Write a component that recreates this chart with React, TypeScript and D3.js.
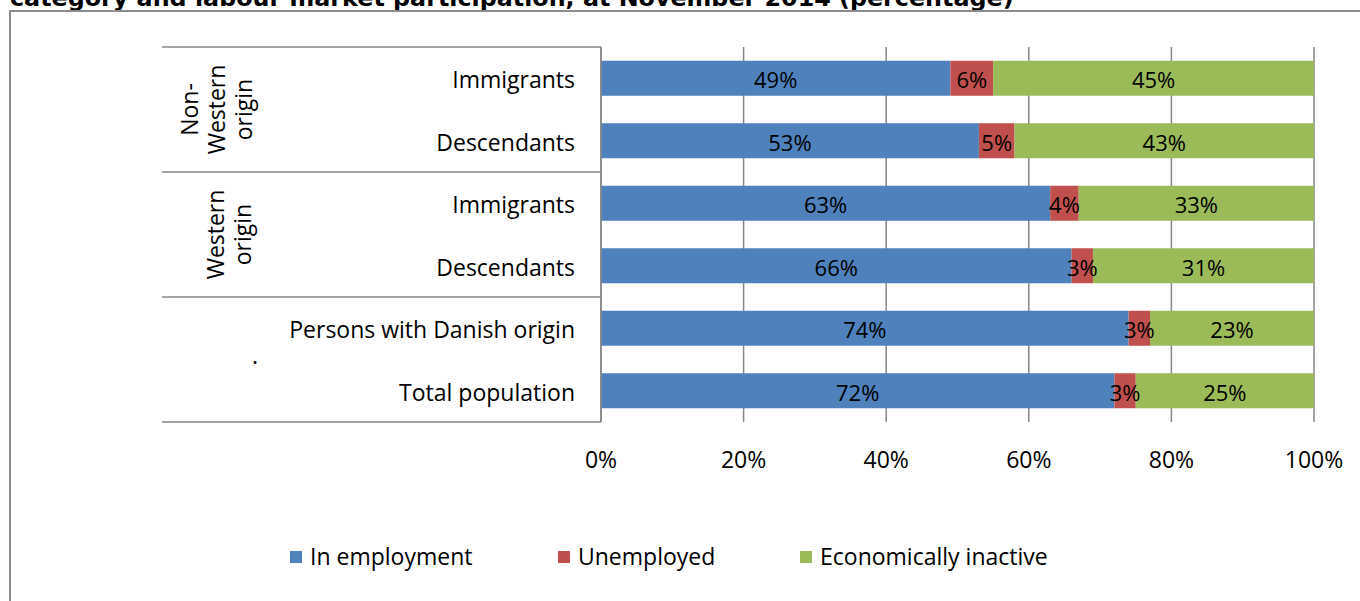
import React, { useEffect, useRef } from "react";
import * as d3 from "d3";

const categories = ["Immigrants", "Descendants", "Immigrants", "Descendants", "Persons with Danish origin", "Total population"];
const groupLabels = [["Non-", "Western", "origin"], ["Western", "origin"], ["."]];
const seriesNames = ["In employment", "Unemployed", "Economically inactive"];
const employment = [49, 53, 63, 66, 74, 72];
const unemployed = [6, 5, 4, 3, 3, 3];
const inactive = [45, 43, 33, 31, 23, 25];
const xTicks = [0, 20, 40, 60, 80, 100];
const colors = ["#4F81BD", "#C0504D", "#9BBB59"];
const titleText = "category and labour market participation, at November 2014 (percentage)";

const W = 1360, H = 601;
const plot = { left: 601, right: 1314, top: 47, bottom: 422 };
const tableLeft = 162;
const FONT = "'Open Sans', sans-serif";

export default function App() {
  const ref = useRef<SVGSVGElement>(null);
  useEffect(() => {
    const svg = d3.select(ref.current);
    svg.selectAll("*").remove();

    const x = d3.scaleLinear().domain([0, 100]).range([plot.left, plot.right]);
    const y = d3.scaleBand<number>().domain(d3.range(categories.length)).range([plot.top, plot.bottom]).paddingInner(0.44).paddingOuter(0.22);

    // title (cut off at top, as in the reference)
    svg.append("text").attr("x", 10).attr("y", 6).attr("font-family", "'DejaVu Sans', Verdana, sans-serif")
      .attr("font-weight", "bold").attr("font-size", 23.8).attr("fill", "#000").text(titleText);

    // chart border
    svg.append("rect").attr("x", 10).attr("y", 11).attr("width", 1400).attr("height", 700)
      .attr("fill", "none").attr("stroke", "#8c8c8c").attr("stroke-width", 2);

    const grid = "#878787";
    svg.append("g").selectAll("line").data(xTicks).join("line")
      .attr("x1", d => x(d)).attr("x2", d => x(d)).attr("y1", plot.top).attr("y2", plot.bottom)
      .attr("stroke", grid).attr("stroke-width", 1.5);

    const rows = categories.map((c, i) => ({ i, v: [employment[i], unemployed[i], inactive[i]] }));
    const stack = d3.stack<any>().keys(["0", "1", "2"]).value((d, k) => d.v[+k]);
    const stacked = stack(rows);
    stacked.forEach((layer, si) => {
      const g = svg.append("g");
      g.selectAll("rect").data(layer).join("rect")
        .attr("x", d => x(d[0])).attr("width", d => x(Math.min(100, d[1])) - x(d[0]))
        .attr("y", d => y((d.data as any).i)!).attr("height", y.bandwidth())
        .attr("fill", colors[si]);
    });
    stacked.forEach((layer, si) => {
      const g = svg.append("g");
      g.selectAll("text").data(layer).join("text")
        .attr("x", d => x((d[0] + Math.min(100, d[1])) / 2)).attr("y", d => y((d.data as any).i)! + y.bandwidth() / 2 + 10)
        .attr("text-anchor", "middle").attr("font-family", FONT).attr("font-size", 22).attr("fill", "#000")
        .text(d => `${(d.data as any).v[si]}%`);
    });

    svg.append("line").attr("x1", plot.left).attr("x2", plot.left).attr("y1", plot.top).attr("y2", plot.bottom)
      .attr("stroke", grid).attr("stroke-width", 1.5);

    const groupBounds = [plot.top, y(2)! - y.step() * y.paddingInner() / 2, y(4)! - y.step() * y.paddingInner() / 2, plot.bottom];
    svg.append("g").selectAll("line").data(groupBounds).join("line")
      .attr("x1", tableLeft).attr("x2", plot.left).attr("y1", d => d).attr("y2", d => d)
      .attr("stroke", grid).attr("stroke-width", 1.5);

    svg.append("g").selectAll("text").data(categories).join("text")
      .attr("x", 575).attr("y", (d, i) => y(i)! + y.bandwidth() / 2 + 10)
      .attr("text-anchor", "end").attr("font-family", FONT).attr("font-size", 23).attr("fill", "#000")
      .text(d => d);

    groupLabels.forEach((lines, gi) => {
      const cy = (groupBounds[gi] + groupBounds[gi + 1]) / 2;
      if (lines.length === 1) {
        svg.append("text").attr("x", 255).attr("y", cy + 4).attr("text-anchor", "middle")
          .attr("font-family", FONT).attr("font-size", 23).text(lines[0]);
        return;
      }
      const cx = gi === 0 ? 217 : 229;
      const lh = 27;
      const t = svg.append("text").attr("transform", `translate(${cx},${cy}) rotate(-90)`)
        .attr("text-anchor", "middle").attr("font-family", FONT).attr("font-size", 23).attr("fill", "#000");
      lines.forEach((ln, li) => {
        t.append("tspan").attr("x", 0).attr("y", (li - (lines.length - 1) / 2) * lh + 8).text(ln);
      });
    });

    svg.append("g").selectAll("text").data(xTicks).join("text")
      .attr("x", d => x(d)).attr("y", 468).attr("text-anchor", "middle")
      .attr("font-family", FONT).attr("font-size", 23).attr("fill", "#000").text(d => `${d}%`);

    const legendX = [290, 558, 800];
    const lg = svg.append("g");
    seriesNames.forEach((n, i) => {
      lg.append("rect").attr("x", legendX[i]).attr("y", 551).attr("width", 12).attr("height", 12).attr("fill", colors[i]);
      lg.append("text").attr("x", legendX[i] + 20).attr("y", 565).attr("font-family", FONT).attr("font-size", 23)
        .attr("fill", "#000").text(n);
    });
  }, []);
  return (
    <svg ref={ref} width={W} height={H} style={{ position: "absolute", left: 0, top: 0, background: "#fff" }} />
  );
}
